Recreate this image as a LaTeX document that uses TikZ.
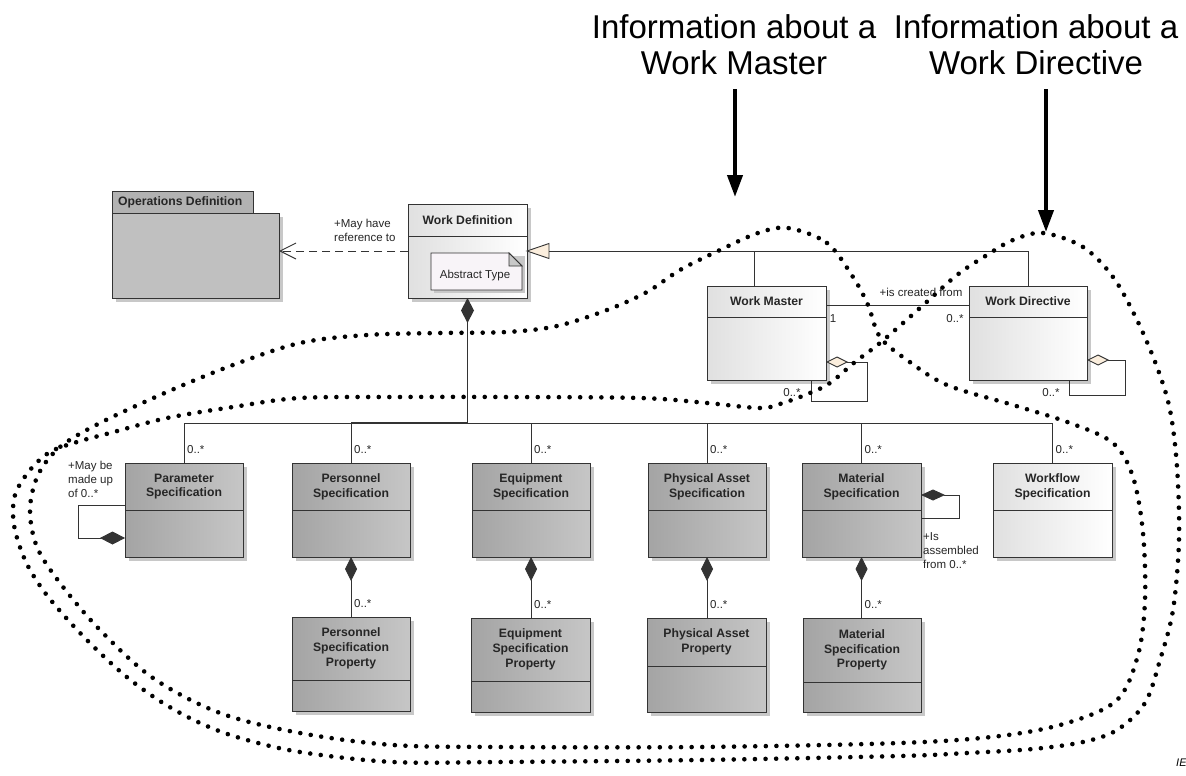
\documentclass[tikz,border=0pt]{standalone}
\usepackage{fontspec}
\setmainfont{Liberation Sans}
\usetikzlibrary{arrows.meta,shadows,calc}
\definecolor{bord}{HTML}{333333}
\definecolor{gdark}{HTML}{A4A4A4}
\definecolor{glight}{HTML}{C6C6C6}
\definecolor{wdark}{HTML}{E0E0E0}
\definecolor{shad}{HTML}{C8C8C8}
\definecolor{cream}{HTML}{FBEEDD}
\definecolor{notefill}{HTML}{F8F4F8}
\definecolor{pkgbody}{HTML}{C0C0C0}
\definecolor{pkgtab}{HTML}{B2B2B2}
\definecolor{txt}{HTML}{262626}
\newcommand\umlbox[8]{%
  \pgfmathsetmacro\umlW{#5-#3}%
  \pgfmathsetmacro\umlH{#6-#4}%
  \node[#2, minimum width=\umlW pt, minimum height=\umlH pt] (#1) at (#3,-#4) {};%
  \draw[divline] (#3,-#7) -- (#5,-#7);%
  \node[ttl] (#1-t) at ({(#3+#5)/2},{-(#4+#7)/2}) {#8};%
}
\tikzset{
  base/.style={draw=bord, line width=0.9pt, inner sep=0pt, outer sep=0pt, anchor=north west,
    general shadow={fill=shad, shadow xshift=4pt, shadow yshift=-4pt}},
  gcls/.style={base, left color=gdark, right color=glight},
  wcls/.style={base, left color=wdark, right color=white},
  divline/.style={draw=bord, line width=0.9pt},
  ttl/.style={font=\fontsize{12.2}{14.8}\selectfont\bfseries, align=center, inner sep=0pt, text=txt},
  lbl/.style={font=\fontsize{11.5}{14}\selectfont, inner sep=0pt, text=txt},
  conn/.style={draw=bord, line width=0.9pt},
  fdia/.style={{Diamond[length=24pt,width=12pt]}-},
  odia/.style={{Diamond[length=22pt,width=11pt,fill=cream]}-},
  bigtxt/.style={font=\fontsize{33}{36}\selectfont, align=center, inner sep=0pt},
  bigarrow/.style={line width=4pt, -{Triangle[length=22pt,width=15pt]}},
  dotloop/.style={line width=4.6pt, line cap=round, dash pattern=on 0pt off 10.6pt}
}
\begin{document}
\begin{tikzpicture}[x=1pt,y=1pt]
\useasboundingbox (0,0) rectangle (1186,-776);
\fill[white] (0,0) rectangle (1186,-776);

% heading texts and arrows
\node[bigtxt] (info1) at (734,-45) {Information about a\\Work Master};
\node[bigtxt] (info2) at (1036,-45) {Information about a\\Work Directive};
\coordinate (a1s) at (735,-89);
\coordinate (a1e) at (735,-197);
\coordinate (a2s) at (1046,-89);
\coordinate (a2e) at (1046,-232);
\draw[bigarrow] (a1s) -- (a1e);
\draw[bigarrow] (a2s) -- (a2e);

% Operations Definition package
\draw[draw=bord, line width=0.9pt, fill=pkgtab] (112,-191) rectangle (253,-213);
\node[base, fill=pkgbody, minimum width=167pt, minimum height=85pt] (od) at (112,-213) {};
\node[ttl, anchor=west] (odt) at (118,-202) {Operations Definition};

% classes
\umlbox{wd}{wcls}{408}{204}{527}{298}{236}{Work Definition}
\umlbox{wm}{wcls}{707}{286}{826}{380}{317}{Work Master}
\umlbox{wdir}{wcls}{969}{286}{1087}{380}{317}{Work Directive}
\umlbox{ps}{gcls}{125}{463}{243}{557}{510}{Parameter\\Specification}
\umlbox{pe}{gcls}{292}{463}{410}{557}{510}{Personnel\\Specification}
\umlbox{eq}{gcls}{472}{463}{590}{557}{510}{Equipment\\Specification}
\umlbox{pa}{gcls}{648}{463}{766}{557}{510}{Physical Asset\\Specification}
\umlbox{ma}{gcls}{802}{463}{921}{557}{510}{Material\\Specification}
\umlbox{wf}{wcls}{993}{463}{1112}{557}{510}{Workflow\\Specification}
\umlbox{pep}{gcls}{292}{617}{410}{711}{680}{Personnel\\Specification\\Property}
\umlbox{eqp}{gcls}{471}{618}{590}{712}{681}{Equipment\\Specification\\Property}
\umlbox{pap}{gcls}{647}{618}{766}{712}{666}{Physical Asset\\Property}
\umlbox{map}{gcls}{803}{618}{921}{712}{682}{Material\\Specification\\Property}

% Abstract Type note
\fill[shad] (434,-256) rectangle (525,-293);
\draw[draw=bord, line width=0.8pt, fill=notefill] (431,-253) -- (509,-253) -- (522,-266) -- (522,-290) -- (431,-290) -- cycle;
\draw[draw=bord, line width=0.8pt, fill=shad] (509,-253) -- (509,-266) -- (522,-266) -- cycle;
\node[lbl] (abst) at (475,-276) {Abstract Type};

% dependency Work Definition -> Operations Definition
\draw[conn, dash pattern=on 8pt off 5pt, -{Straight Barb[length=16pt,width=16pt]}] (wd.west) -- (od.east |- wd.west);
\node[lbl, align=left, anchor=west] (lref) at (334,-230) {+May have\\reference to};

% generalization
\coordinate (gbase) at ($(wd.east)+(22,0)$);
\draw[conn, fill=cream] (wd.east) -- ($(wd.east)+(22,7.5)$) -- ($(wd.east)+(22,-7.5)$) -- cycle;
\coordinate (wmtop) at ($(wm.north)+(-12,0)$);
\draw[conn] (gbase) -| (wdir.north);
\draw[conn] (wmtop) -- (wmtop |- gbase);

% association Work Master - Work Directive
\draw[conn] ($(wm.north east)+(0,-19)$) -- ($(wdir.north west)+(0,-19)$);
\node[lbl] (lcreated) at (921,-292) {+is created from};
\node[lbl] (lone) at (833,-319) {1};
\node[lbl] (lwdm) at (955,-319) {0..*};

% self aggregations
\draw[conn, odia] ($(wm.north east)+(0,-76)$) -- ++(41,0) |- ($(wm.south west)+(104,-21)$) -- ($(wm.south west)+(104,0)$);
\node[lbl] (lwmself) at (792,-393) {0..*};
\draw[conn, odia] ($(wdir.north east)+(0,-74)$) -- ++(38,0) |- ($(wdir.south west)+(100,-15)$) -- ($(wdir.south west)+(100,0)$);
\node[lbl] (lwdself) at (1051,-393) {0..*};

% composition trunk and bus
\coordinate (bus) at (0,-423);
\draw[conn, line width=1.7pt, {Diamond[length=25pt,width=13pt]}-] (wd.south) -- (wd.south |- bus);
\draw[conn] (ps.north |- bus) -- (wf.north |- bus);
\draw[conn, line width=1.7pt] (pe.north |- bus) -- (wd.south |- bus);
\foreach \n in {ps,pe,eq,pa,ma,wf}{
  \draw[conn] (\n.north |- bus) -- (\n.north);
  \node[lbl, anchor=west] at ($(\n.north)+(3,13)$) {0..*};
}

% compositions to property classes
\foreach \a/\b in {pe/pep,eq/eqp,pa/pap,ma/map}{
  \draw[conn, fdia] (\a.south) -- (\a.south |- \b.north);
  \node[lbl, anchor=west] at ($(\a.south |- \b.north)+(3,13)$) {0..*};
}

% parameter self composition
\draw[conn, {Diamond[length=25pt,width=13pt]}-] ($(ps.north west)+(0,-75)$) -- ++(-47,0) |- ($(ps.north west)+(0,-42)$);
\node[lbl, align=left, anchor=west] (lmade) at (68,-479) {+May be\\made up\\of 0..*};

% material self composition
\draw[conn, {Diamond[length=24pt,width=11pt]}-] ($(ma.north east)+(0,-32)$) -- ++(38,0) |- ($(ma.north east)+(0,-55)$);
\node[lbl, align=left, anchor=west] (lasm) at (923,-551) {+Is\\assembled\\from 0..*};

% dotted loops
\draw[dotloop] plot[smooth cycle, tension=0.55] coordinates {(788,-228) (827,-243) (853,-277) (868,-305) (880,-337) (907,-360) (947,-385) (1013,-405) (1070,-423) (1113,-443) (1133,-477) (1143,-533) (1145,-600) (1138,-655) (1117,-700) (1067,-723) (1000,-736) (900,-743) (700,-747) (500,-747) (393,-745) (300,-733) (220,-713) (153,-678) (100,-630) (60,-583) (37,-547) (30,-510) (38,-475) (60,-447) (100,-423) (167,-392) (233,-365) (300,-343) (367,-335) (440,-333) (507,-332) (557,-326) (607,-310) (647,-292) (680,-270) (720,-250) (758,-233)};
\draw[dotloop] plot[smooth cycle, tension=0.55] coordinates {(1043,-233) (1083,-247) (1113,-277) (1137,-320) (1157,-367) (1170,-410) (1177,-467) (1179,-540) (1173,-610) (1160,-660) (1145,-703) (1117,-730) (1083,-742) (1033,-749) (967,-753) (900,-756) (700,-760) (500,-762) (393,-762) (300,-752) (240,-738) (200,-723) (163,-703) (128,-678) (97,-650) (68,-620) (43,-590) (25,-560) (14,-525) (15,-495) (30,-470) (50,-452) (77,-442) (110,-433) (167,-418) (233,-407) (300,-398) (400,-397) (500,-397) (640,-398) (707,-403) (760,-408) (783,-403) (810,-393) (830,-383) (855,-362) (880,-343) (920,-308) (957,-275) (987,-255) (1013,-240)};

\node[font=\fontsize{11}{13}\selectfont\itshape, anchor=west, inner sep=0pt] (iec) at (1176,-763) {IE};
\end{tikzpicture}
\end{document}
